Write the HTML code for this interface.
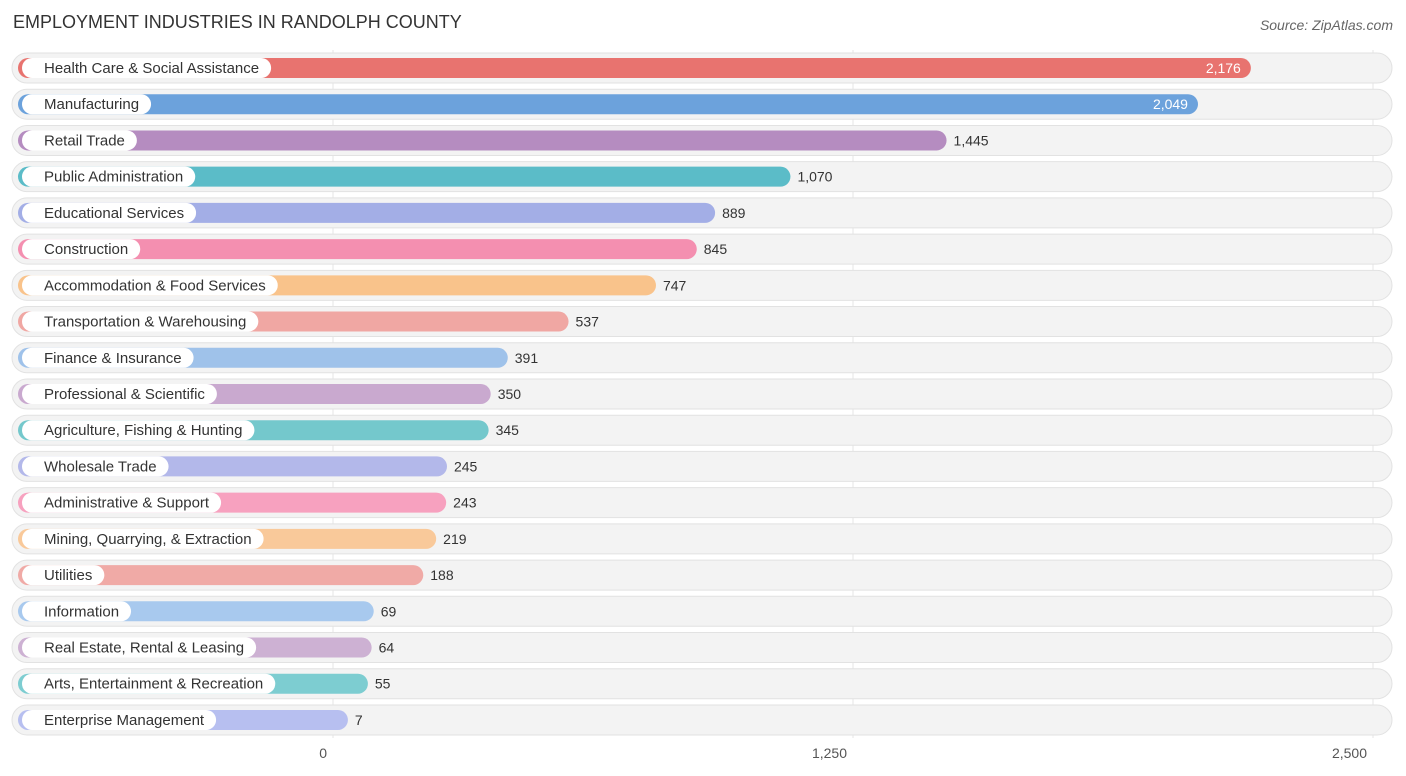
<!DOCTYPE html>
<html><head><meta charset="utf-8"><style>
body{margin:0;background:#fff;font-family:"Liberation Sans",sans-serif;}
svg{display:block}
</style></head><body>
<svg id="chart" width="1406" height="776">
<text x="13" y="28" font-size="18" fill="#333">EMPLOYMENT INDUSTRIES IN RANDOLPH COUNTY</text>
<text x="1393" y="30" font-size="14" fill="#666" font-style="italic" text-anchor="end">Source: ZipAtlas.com</text>
<g id="grid"></g><g id="rows"></g><g id="ticks"></g>
</svg>
<script>
const categories=["Health Care & Social Assistance","Manufacturing","Retail Trade","Public Administration","Educational Services","Construction","Accommodation & Food Services","Transportation & Warehousing","Finance & Insurance","Professional & Scientific","Agriculture, Fishing & Hunting","Wholesale Trade","Administrative & Support","Mining, Quarrying, & Extraction","Utilities","Information","Real Estate, Rental & Leasing","Arts, Entertainment & Recreation","Enterprise Management"];
const values=[2176,2049,1445,1070,889,845,747,537,391,350,345,245,243,219,188,69,64,55,7];
const tickValues=[0,1250,2500];
const tickLabels=["0","1,250","2,500"];
const colors=["#e8736f","#6ca2dc","#b58cc0","#5bbcc8","#a3aee6","#f48fb0","#f9c38b","#f0a7a3","#9fc2ea","#c9a9cf","#74c8cc","#b3b8ea","#f7a1bf","#f9c99a","#f0aaa6","#a8c9ee","#cdb1d3","#7dcdd1","#b7bff0"];
const NS="http://www.w3.org/2000/svg";
const gx=v=>333+v*0.416;
const bx=v=>345+v*0.4163;
const ry=i=>68+i*36.22;
function mk(tag,attrs,parent){const e=document.createElementNS(NS,tag);for(const k in attrs)e.setAttribute(k,attrs[k]);parent.appendChild(e);return e;}
const grid=document.getElementById('grid'),rows=document.getElementById('rows'),ticks=document.getElementById('ticks');
tickValues.forEach((t,i)=>{
  const l=mk('line',{x1:gx(t),x2:gx(t),y1:50,y2:738,stroke:'#e4e4e4','stroke-width':1},grid);
  
  
  const tx=mk('text',{x:gx(t)-6,y:758,'font-size':14,fill:'#555','text-anchor':'end'},ticks);
  tx.textContent=tickLabels[i];
  
  
});
categories.forEach((c,i)=>{
  const y=ry(i);
  const g=mk('g',{},rows);
  
  
  const bg=mk('rect',{x:12,y:y-15,width:1380,height:30,rx:15,fill:'#f3f3f3',stroke:'#e2e2e2'},g);
  
  
  const end=bx(values[i]);
  const b=mk('rect',{x:18,y:y-10,width:end-18,height:20,rx:10,fill:colors[i]},g);
  
  
  const lbl=mk('text',{x:44,y:y+5,'font-size':15,fill:'#333'},g);
  lbl.textContent=c;
  const pill=mk('rect',{x:22,y:y-10,width:0,height:20,rx:10,fill:'#fff'},g);
  g.insertBefore(pill,lbl);
  const w=lbl.getComputedTextLength();
  pill.setAttribute('width',w+34);
  
  
  
  
  const inside=values[i]>2000;
  const v=mk('text',{x:inside?end-10:end+7,y:y+5,'font-size':14,fill:inside?'#fff':'#333','text-anchor':inside?'end':'start'},g);
  v.textContent=values[i].toLocaleString('en-US');
  
  
});
</script>
</body></html>
